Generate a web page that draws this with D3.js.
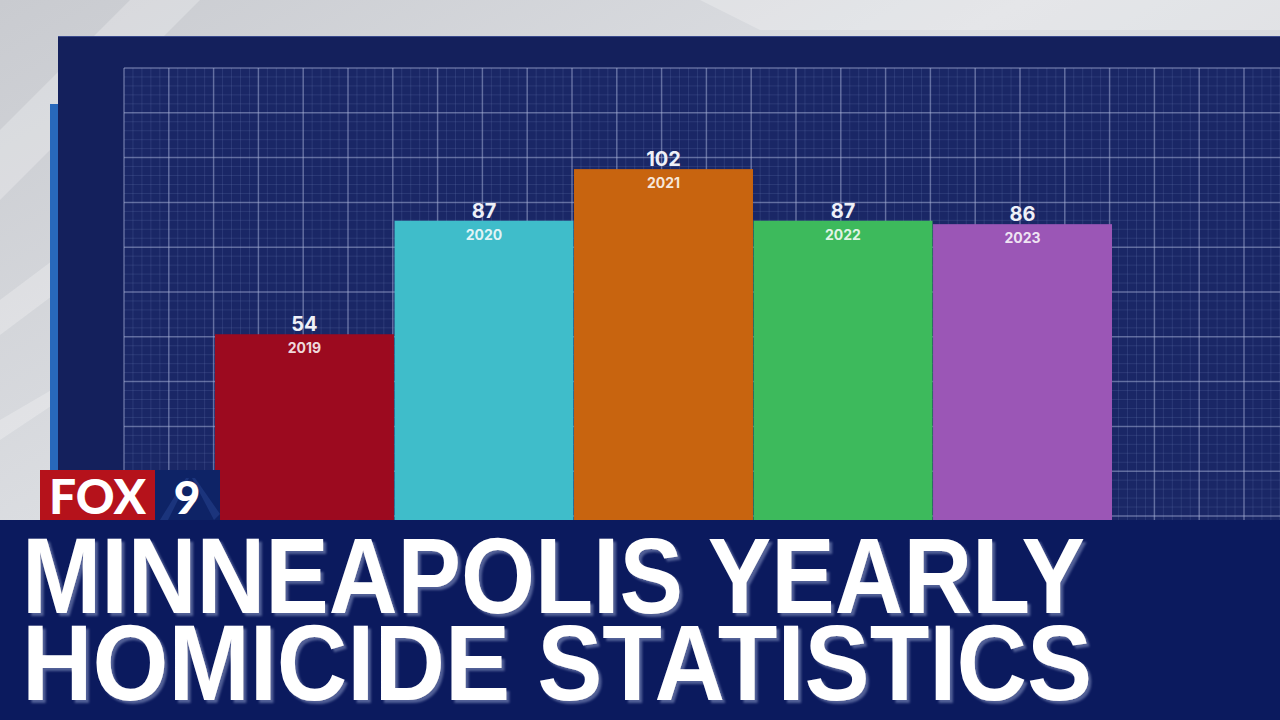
<!DOCTYPE html>
<html>
<head>
<meta charset="utf-8">
<script src="https://cdn.jsdelivr.net/npm/d3@7"></script>
<style>
    html, body { margin: 0; padding: 0; background: #d6d8dc; overflow: hidden; }
    svg { display: block; }
</style>
</head>
<body>
<svg id="chart" width="1280" height="720"></svg>
<script>
const years = ["2019", "2020", "2021", "2022", "2023"];
const homicides = [54, 87, 102, 87, 86];
const barColors = ["#9c0a1f", "#3fbdca", "#c8640f", "#3dba5c", "#9b56b6"];
const titleLines = ["MINNEAPOLIS YEARLY", "HOMICIDE STATISTICS"];

const width = 1280, height = 720;
const panel = {left: 58, top: 36};
const grid = {left: 124, top: 68, step: 44.8};
const baseY = 520;

const svg = d3.select("#chart");
const defs = svg.append("defs");

// Background (grey studio wall with soft light streaks)
const bgGrad = defs.append("linearGradient")
    .attr("id", "bg-grad")
    .attr("x1", 0).attr("y1", 0).attr("x2", 1).attr("y2", 1);
bgGrad.append("stop").attr("offset", "0%").attr("stop-color", "#c9cbd0");
bgGrad.append("stop").attr("offset", "40%").attr("stop-color", "#dcdee2");
bgGrad.append("stop").attr("offset", "100%").attr("stop-color", "#c4c7cc");

// text shadow used by the lower third
const shadow = defs.append("filter")
    .attr("id", "title-shadow")
    .attr("x", "-5%").attr("y", "-5%")
    .attr("width", "110%").attr("height", "115%");
shadow.append("feDropShadow")
    .attr("dx", 3).attr("dy", 3)
    .attr("stdDeviation", 0.8)
    .attr("flood-color", "#5a669c")
    .attr("flood-opacity", 0.9);

svg.append("rect")
    .attr("width", width)
    .attr("height", height)
    .attr("fill", "url(#bg-grad)");

const streaks = [
    [[0, 130], [130, 0], [200, 0], [0, 200]],
    [[0, 300], [60, 255], [60, 290], [0, 335]],
    [[0, 420], [60, 385], [60, 400], [0, 440]],
    [[700, 0], [1280, 0], [1280, 30], [760, 30]]
];
svg.selectAll("polygon.streak")
    .data(streaks)
    .enter()
    .append("polygon")
    .attr("class", "streak")
    .attr("points", d => d.map(p => p.join(",")).join(" "))
    .attr("fill", "#ffffff")
    .attr("opacity", 0.25);

// Blue side strip and navy board
svg.append("rect")
    .attr("x", 50).attr("y", 104)
    .attr("width", 10).attr("height", baseY - 104)
    .attr("fill", "#2868bb");

svg.append("rect")
    .attr("x", panel.left).attr("y", panel.top)
    .attr("width", width - panel.left).attr("height", baseY - panel.top)
    .attr("fill", "#14205c");

svg.append("line")
    .attr("x1", panel.left).attr("x2", width)
    .attr("y1", panel.top + 0.5).attr("y2", panel.top + 0.5)
    .attr("stroke", "#3a4a8c")
    .attr("stroke-width", 1);

// Blueprint grid
svg.append("rect")
    .attr("x", grid.left).attr("y", grid.top)
    .attr("width", width - grid.left).attr("height", baseY - grid.top)
    .attr("fill", "#1a2766");

const fine = grid.step / 5;
const gridG = svg.append("g");

gridG.selectAll("line.vf")
    .data(d3.range(grid.left, width, fine))
    .enter().append("line")
    .attr("x1", d => d).attr("x2", d => d)
    .attr("y1", grid.top).attr("y2", baseY)
    .attr("stroke", "#6f80b8").attr("stroke-opacity", 0.22).attr("stroke-width", 1);

gridG.selectAll("line.hf")
    .data(d3.range(grid.top, baseY, fine))
    .enter().append("line")
    .attr("x1", grid.left).attr("x2", width)
    .attr("y1", d => d).attr("y2", d => d)
    .attr("stroke", "#6f80b8").attr("stroke-opacity", 0.22).attr("stroke-width", 1);

gridG.selectAll("line.vm")
    .data(d3.range(grid.left, width, grid.step))
    .enter().append("line")
    .attr("x1", d => d).attr("x2", d => d)
    .attr("y1", grid.top).attr("y2", baseY)
    .attr("stroke", "#aab4d8").attr("stroke-opacity", 0.45).attr("stroke-width", 1.5);

gridG.selectAll("line.hm")
    .data(d3.range(grid.top, baseY, grid.step))
    .enter().append("line")
    .attr("x1", grid.left).attr("x2", width)
    .attr("y1", d => d).attr("y2", d => d)
    .attr("stroke", "#aab4d8").attr("stroke-opacity", 0.45).attr("stroke-width", 1.5);

// Scales
const x = d3.scaleBand()
    .domain(years)
    .range([215, 1112])
    .paddingInner(0.003);

const y = d3.scaleLinear()
    .domain([0, 100])
    .range([baseY, baseY - 344]);

const data = years.map((yr, i) => ({year: yr, value: homicides[i], color: barColors[i]}));

// Bars
svg.selectAll("rect.bar")
    .data(data)
    .enter()
    .append("rect")
    .attr("class", "bar")
    .attr("x", d => x(d.year))
    .attr("y", d => y(d.value))
    .attr("width", x.bandwidth())
    .attr("height", d => baseY - y(d.value))
    .attr("fill", d => d.color);

// Value labels above each bar
svg.selectAll("text.value")
    .data(data)
    .enter()
    .append("text")
    .attr("class", "value")
    .attr("x", d => x(d.year) + x.bandwidth() / 2)
    .attr("y", d => y(d.value) - 3)
    .attr("text-anchor", "middle")
    .style("font-family", "Inter, 'Open Sans', sans-serif")
    .style("font-weight", 700)
    .style("font-size", "20px")
    .attr("fill", "#eef0f8")
    .text(d => d.value);

// Year labels inside each bar
svg.selectAll("text.year")
    .data(data)
    .enter()
    .append("text")
    .attr("class", "year")
    .attr("x", d => x(d.year) + x.bandwidth() / 2)
    .attr("y", d => y(d.value) + 19)
    .attr("text-anchor", "middle")
    .style("font-family", "Inter, 'Open Sans', sans-serif")
    .style("font-weight", 700)
    .style("font-size", "14px")
    .attr("fill", "#ffffff")
    .attr("fill-opacity", 0.85)
    .text(d => d.year);

// Lower third banner
svg.append("rect")
    .attr("x", 0).attr("y", baseY)
    .attr("width", width).attr("height", height - baseY)
    .attr("fill", "#0b1a5e");

const titleWidths = [1063, 1070];
const titleBase = [613, 700];

svg.append("g")
    .attr("filter", "url(#title-shadow)")
    .selectAll("text.title")
    .data(titleLines)
    .enter()
    .append("text")
    .attr("class", "title")
    .attr("x", 22)
    .attr("y", (d, i) => titleBase[i])
    .attr("textLength", (d, i) => titleWidths[i])
    .attr("lengthAdjust", "spacingAndGlyphs")
    .style("font-family", "'Liberation Sans Narrow', 'Liberation Sans', Arial, sans-serif")
    .style("font-weight", 700)
    .style("font-size", "107px")
    .attr("fill", "#ffffff")
    .text(d => d);

// FOX 9 bug
const logo = svg.append("g");
logo.append("rect")
    .attr("x", 40).attr("y", 470)
    .attr("width", 115).attr("height", 50)
    .attr("fill", "#b5121b");
logo.append("rect")
    .attr("x", 155).attr("y", 470)
    .attr("width", 65).attr("height", 50)
    .attr("fill", "#0e2366");
logo.append("polygon")
    .attr("points", "160,520 186,478 189,478 168,520")
    .attr("fill", "#3a5cb0").attr("opacity", 0.3);
logo.append("polygon")
    .attr("points", "214,520 192,478 195,478 220,514")
    .attr("fill", "#3a5cb0").attr("opacity", 0.3);
logo.append("text")
    .attr("x", 49).attr("y", 514)
    .attr("textLength", 97)
    .attr("lengthAdjust", "spacingAndGlyphs")
    .style("font-family", "'Lato', 'Roboto', sans-serif")
    .style("font-weight", 900)
    .style("font-size", "48px")
    .attr("fill", "#ffffff")
    .text("FOX");
logo.append("text")
    .attr("x", 187).attr("y", 514)
    .attr("text-anchor", "middle")
    .style("font-family", "'Lato', 'Roboto', sans-serif")
    .style("font-weight", 900)
    .style("font-size", "46px")
    .attr("fill", "#ffffff")
    .text("9");
</script>
</body>
</html>
